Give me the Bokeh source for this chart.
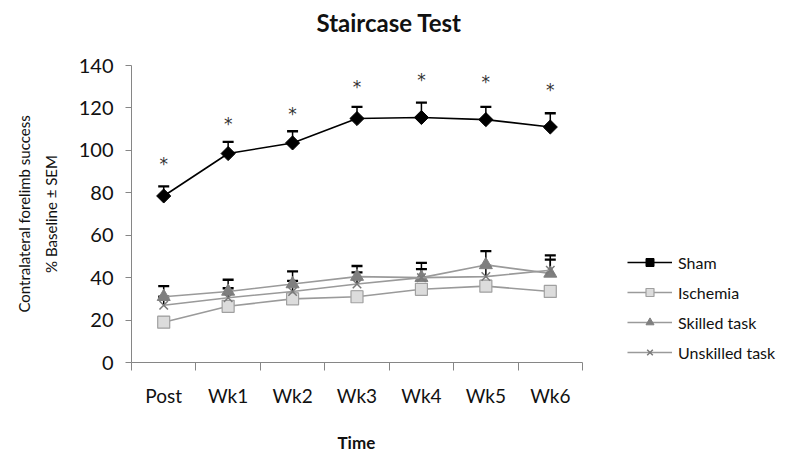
from bokeh.plotting import figure
from bokeh.models import (Range1d, FixedTicker, CustomJSTickFormatter, Whisker,
                          ColumnDataSource, Legend, LegendItem, TeeHead, Title)
from bokeh.core.properties import value
from bokeh.embed import file_html
from bokeh.resources import INLINE

categories = ["Post", "Wk1", "Wk2", "Wk3", "Wk4", "Wk5", "Wk6"]
sham = [78.5, 98.5, 103.5, 115, 115.5, 114.5, 111]
sham_sem = [4.5, 5.5, 5.5, 5.5, 7, 6, 6.5]
ischemia = [19, 26.5, 30, 31, 34.5, 36, 33.5]
ischemia_sem = [2.5, 2.5, 2.5, 2.5, 2.5, 2.5, 2.5]
skilled = [31, 33.5, 37, 40.5, 40, 46, 42]
skilled_sem = [5, 5.5, 6, 5, 4, 6.5, 6.5]
unskilled = [27, 30.5, 33.5, 37, 40, 40.5, 43.5]
unskilled_sem = [4, 4.5, 5, 5.5, 7, 5, 7]
sig_y = [96, 115, 119.5, 132, 135.5, 134.5, 131]
sig_text = ["*"] * 7

FONT = "Lato"
n = len(categories)
xs = [i + 0.5 for i in range(n)]

# plot frame spans the legend area too; the category axis covers 0..n only
FRAME_L, AXIS_R, FRAME_R = 131, 582, 790
x_end = n * (FRAME_R - FRAME_L) / (AXIS_R - FRAME_L)

p = figure(width=795, height=454, x_range=Range1d(0, x_end), y_range=Range1d(0, 140),
           output_backend="svg", toolbar_location=None,
           min_border_left=FRAME_L, min_border_right=795 - FRAME_R,
           min_border_top=65, min_border_bottom=92)
p.outline_line_color = None
p.xgrid.visible = False
p.ygrid.visible = False
p.background_fill_color = "white"
p.border_fill_color = "white"

# real title, with a spacer title added closer to the frame
p.title.text = "Staircase Test"
p.title.text_font = FONT
p.title.text_font_size = "24px"
p.title.text_font_style = "bold"
p.title.text_color = "#111111"
p.title.align = "left"
p.title.offset = 185
p.title.standoff = 0
spacer = Title(text=" ", text_font=FONT, text_font_size="14px", standoff=10)
p.add_layout(spacer, "above")

# axes
xa = p.xaxis[0]
xa.bounds = (0, n)
xa.ticker = FixedTicker(ticks=xs, minor_ticks=list(range(n + 1)))
xa.formatter = CustomJSTickFormatter(args=dict(labels=categories),
                                     code="return labels[Math.round(tick - 0.5)]")
xa.major_tick_out = 0
xa.major_tick_in = 0
xa.minor_tick_out = 8
xa.minor_tick_in = 0
xa.minor_tick_line_color = "#868686"
xa.axis_line_color = "#868686"
xa.major_label_text_font = FONT
xa.major_label_text_font_size = "19px"
xa.major_label_text_color = "#111111"
xa.major_label_standoff = 13
xa.axis_label = " "
xa.axis_label_text_font = FONT
xa.axis_label_text_font_size = "14px"
xa.axis_label_standoff = 0

# "Time" centred under the category axis (not under the legend area)
time_title = Title(text="Time", text_font=FONT, text_font_size="17px",
                   text_font_style="bold", text_color="#111111", align="left",
                   offset=206, standoff=0)
p.add_layout(time_title, "below")

ya = p.yaxis[0]
ya.ticker = FixedTicker(ticks=list(range(0, 141, 20)))
ya.major_tick_out = 6
ya.major_tick_in = 0
ya.minor_tick_out = 0
ya.minor_tick_in = 0
ya.major_tick_line_color = "#868686"
ya.axis_line_color = "#868686"
ya.major_label_text_font = FONT
ya.major_label_text_font_size = "20px"
ya.major_label_text_color = "#111111"
ya.major_label_standoff = 12
ya.axis_label = "Contralateral forelimb success\n% Baseline \u00b1 SEM"
ya.axis_label_text_font = FONT
ya.axis_label_text_font_size = "15px"
ya.axis_label_text_font_style = "normal"
ya.axis_label_text_color = "#111111"
ya.axis_label_text_line_height = 1.5
ya.axis_label_standoff = 16

src = ColumnDataSource(dict(
    x=xs, sham=sham, isch=ischemia, skil=skilled, unsk=unskilled,
    sham_up=[v + e for v, e in zip(sham, sham_sem)],
    isch_up=[v + e for v, e in zip(ischemia, ischemia_sem)],
    skil_up=[v + e for v, e in zip(skilled, skilled_sem)],
    unsk_up=[v + e for v, e in zip(unskilled, unskilled_sem)],
    sig_y=sig_y, sig=sig_text,
))

GRAY_LINE = "#9a9a9a"

def errbar(col, up, color, width):
    w = Whisker(source=src, base="x", lower=col, upper=up, dimension="height",
                line_color=color, line_width=width,
                upper_head=TeeHead(size=11, line_color=color, line_width=width + 0.8),
                lower_head=None)
    p.add_layout(w)

errbar("isch", "isch_up", "#8a8a8a", 1.2)
errbar("skil", "skil_up", "black", 1.5)
errbar("unsk", "unsk_up", "black", 1.5)
errbar("sham", "sham_up", "black", 1.5)

# Ischemia
l_is = p.line("x", "isch", source=src, line_color=GRAY_LINE, line_width=1.6)
m_is = p.scatter("x", "isch", source=src, marker="square", size=12,
                 fill_color="#dcdcdc", line_color="#a0a0a0", line_width=1.2)
# Skilled
l_sk = p.line("x", "skil", source=src, line_color=GRAY_LINE, line_width=1.6)
m_sk = p.scatter("x", "skil", source=src, marker="triangle", size=13,
                 fill_color="#7f7f7f", line_color="#7f7f7f", line_width=1)
# Unskilled
l_un = p.line("x", "unsk", source=src, line_color=GRAY_LINE, line_width=1.6)
m_un = p.scatter("x", "unsk", source=src, marker="x", size=12,
                 line_color="#7a7a7a", line_width=1.5)
# Sham
l_sh = p.line("x", "sham", source=src, line_color="black", line_width=1.6)
m_sh = p.scatter("x", "sham", source=src, marker="square", angle=0.785398, size=10,
                 fill_color="black", line_color="black")

p.text("x", "sig_y", text="sig", source=src, text_font=value("DejaVu Sans"),
       text_font_size="17px", text_color="#333333", text_align="center",
       text_baseline="middle", y_offset=5)

legend = Legend(items=[
    LegendItem(label="Sham", renderers=[l_sh, m_sh]),
    LegendItem(label="Ischemia", renderers=[l_is, m_is]),
    LegendItem(label="Skilled task", renderers=[l_sk, m_sk]),
    LegendItem(label="Unskilled task", renderers=[l_un, m_un]),
], location=(627 - FRAME_L, 0), orientation="vertical", glyph_width=45, glyph_height=20,
    spacing=10, label_standoff=6, padding=0, margin=0,
    label_text_font=FONT, label_text_font_size="16px", label_text_color="#111111",
    border_line_color=None, background_fill_alpha=0)
p.add_layout(legend, "center")

open("out.html", "w").write(file_html(p, INLINE))
